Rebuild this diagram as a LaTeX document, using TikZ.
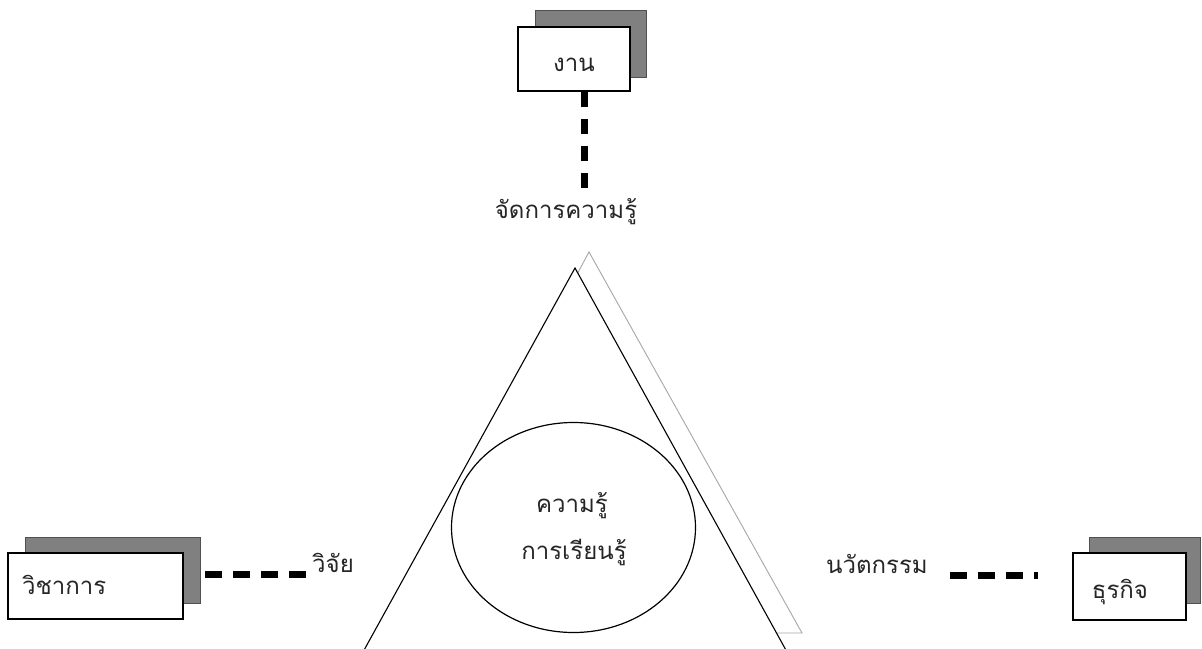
\documentclass[tikz,border=0pt]{standalone}
\usepackage{fontspec}
\usetikzlibrary{shapes.geometric}
\newfontfamily\thaifont[Script=Thai]{Loma}
\definecolor{shade}{HTML}{808080}
\definecolor{shadeedge}{HTML}{505050}
\definecolor{txt}{HTML}{262626}
\begin{document}
\begin{tikzpicture}[x=1pt,y=-1pt,
  every node/.style={font=\thaifont\fontsize{24}{28}\selectfont,text=txt},
  shadowbox/.style={draw=shadeedge,fill=shade,line width=1pt},
  frontbox/.style={draw=black,fill=white,line width=1.5pt},
  dashline/.style={line width=7pt,dash pattern=on 15pt off 12pt},
  hdashline/.style={line width=7pt,dash pattern=on 17pt off 11pt},
  lbl/.style={inner sep=0pt,anchor=base}]
\useasboundingbox (0,0) rectangle (1202,648);
\fill[white] (0,0) rectangle (1202,648);
% triangle with shadow
\draw[draw=gray!70,line width=0.9pt] (589,252) -- (802,633) -- (384,633) -- cycle;
\draw[fill=white,line width=1.1pt] (575,268) -- (787,652) -- (363,652) -- cycle;
\node[draw,line width=1.2pt,ellipse,minimum width=244pt,minimum height=210pt,inner sep=0pt] (circ) at (573.5,527.5) {};
\node[lbl] (kr) at (572,512) {ความรู้};
\node[lbl] (lr) at (574,559) {การเรียนรู้};
% top box
\draw[shadowbox] (535,10) rectangle (646,77);
\node[frontbox,minimum width=112pt,minimum height=64pt,inner sep=0pt] (ngan) at (574,59) {};
\node[lbl] (ngantxt) at (574,71) {งาน};
\node[lbl] (km) at (566,218) {จัดการความรู้};
\coordinate (kmtop) at (584.5,190);
\draw[dashline] (ngan.south -| kmtop) -- (kmtop);
% left box
\draw[shadowbox] (25,537) rectangle (200,603);
\node[frontbox,minimum width=175pt,minimum height=66pt,inner sep=0pt] (vich) at (95.5,586) {};
\node[lbl,anchor=base west] (vichtxt) at (22,594) {วิชาการ};
\node[lbl,anchor=base west] (vijai) at (312,572) {วิจัย};
\coordinate (ls) at (205,574);
\coordinate (le) at (308,574);
\draw[hdashline] (ls) -- (le);
% right box
\draw[shadowbox] (1089,537) rectangle (1200,603);
\node[frontbox,minimum width=113pt,minimum height=67pt,inner sep=0pt] (turakit) at (1129.5,586.5) {};
\node[lbl] (turtxt) at (1120,598) {ธุรกิจ};
\node[lbl] (nawat) at (877,573) {นวัตกรรม};
\coordinate (rs) at (950,575);
\coordinate (re) at (1038,575);
\draw[hdashline] (rs) -- (re);
\end{tikzpicture}
\end{document}
